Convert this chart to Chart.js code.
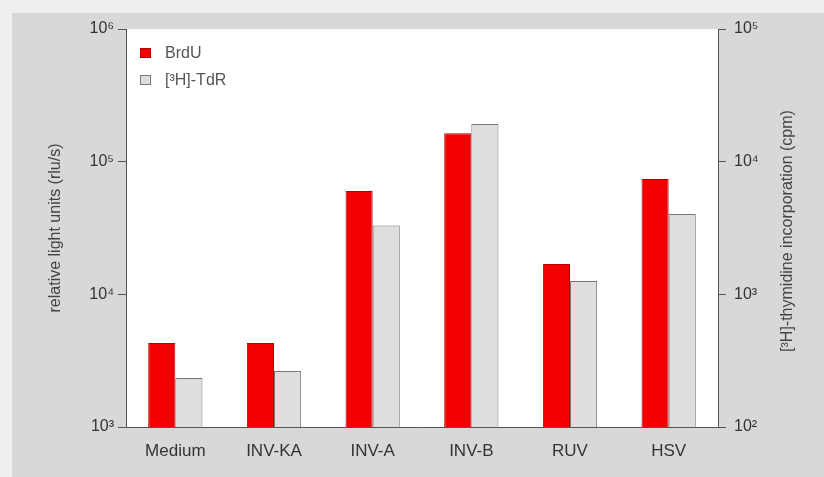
<!DOCTYPE html>
<html><head><meta charset="utf-8">
<script src="https://cdn.jsdelivr.net/npm/chart.js@4/dist/chart.umd.min.js"></script>
<style>html,body{margin:0;padding:0;background:#eeeeee;}#wrap{width:824px;height:477px;position:relative;}</style>
</head><body><div id="wrap"><canvas id="c" width="824" height="477"></canvas></div>
<script>
const categories = ['Medium', 'INV-KA', 'INV-A', 'INV-B', 'RUV', 'HSV'];
const brduValues = [4300, 4300, 60000, 164000, 16900, 74000];
const tdrValues = [234, 264, 3300, 19200, 1260, 4030];
const seriesLabels = ['BrdU', '[³H]-TdR'];
const leftTickValues = [1000, 10000, 100000, 1000000];
const leftTickLabels = ['10³', '10⁴', '10⁵', '10⁶'];
const rightTickValues = [100, 1000, 10000, 100000];
const rightTickLabels = ['10²', '10³', '10⁴', '10⁵'];
const leftTitle = 'relative light units (rlu/s)';
const rightTitle = '[³H]-thymidine incorporation (cpm)';

const FONT = '"Liberation Sans", Arial, sans-serif';

const bgPlugin = {
  id: 'bg',
  beforeDraw(chart) {
    const ctx = chart.ctx, a = chart.chartArea;
    ctx.save();
    ctx.fillStyle = '#efefef';
    ctx.fillRect(0, 0, chart.width, chart.height);
    ctx.fillStyle = '#d8d8d8';
    ctx.fillRect(12, 13, chart.width - 12, chart.height - 13);
    ctx.fillStyle = '#ffffff';
    ctx.fillRect(a.left, a.top, a.right - a.left, a.bottom - a.top);
    ctx.restore();
  },
  afterDraw(chart) {
    const ctx = chart.ctx, a = chart.chartArea;
    ctx.save();
    // legend
    const ds = chart.data.datasets;
    ctx.font = '16px ' + FONT;
    ctx.textBaseline = 'middle';
    ctx.textAlign = 'left';
    ds.forEach((d, i) => {
      const y = 53 + i * 27;
      ctx.fillStyle = d.backgroundColor;
      ctx.fillRect(140, y - 5, 11, 10);
      ctx.strokeStyle = d.borderColor;
      ctx.lineWidth = 1;
      ctx.strokeRect(140.5, y - 4.5, 10, 9);
      ctx.fillStyle = '#555555';
      ctx.fillText(d.label, 165, y + 1);
    });
    // axis titles
    const cy = (a.top + a.bottom) / 2;
    ctx.fillStyle = '#444444';
    ctx.textAlign = 'center';
    ctx.font = '16px ' + FONT;
    ctx.translate(56, cy);
    ctx.rotate(-Math.PI / 2);
    ctx.fillText(leftTitle, 0, 0);
    ctx.rotate(Math.PI / 2);
    ctx.translate(-56, -cy);
    ctx.translate(788, cy + 3);
    ctx.rotate(-Math.PI / 2);
    ctx.fillText(rightTitle, 0, 0);
    ctx.restore();
  }
};

new Chart(document.getElementById('c'), {
  type: 'bar',
  data: {
    labels: categories,
    datasets: [
      { label: seriesLabels[0], data: brduValues, yAxisID: 'y',
        backgroundColor: '#f20000', borderColor: '#b80000', borderWidth: 1 },
      { label: seriesLabels[1], data: tdrValues, yAxisID: 'y1',
        backgroundColor: '#dedede', borderColor: '#777777', borderWidth: 1 }
    ]
  },
  options: {
    responsive: false,
    animation: false,
    layout: { padding: { top: 29, left: 0, right: 0, bottom: 0 } },
    datasets: { bar: { categoryPercentage: 0.55, barPercentage: 1.0 } },
    plugins: { legend: { display: false }, tooltip: { enabled: false } },
    scales: {
      x: {
        grid: { display: false, drawTicks: false },
        border: { color: '#555555', width: 1 },
        ticks: { color: '#333333', font: { family: FONT, size: 17 }, padding: 14 },
        afterFit(s) { s.height = 50; }
      },
      y: {
        type: 'logarithmic', position: 'left', min: 1000, max: 1000000,
        grid: { drawOnChartArea: false, tickLength: 8, color: '#555555' },
        border: { color: '#555555', width: 1 },
        afterBuildTicks(s) { s.ticks = leftTickValues.map(v => ({ value: v })); },
        ticks: { color: '#333333', font: { family: FONT, size: 16 }, padding: 4,
          callback(v) { const i = leftTickValues.indexOf(v); return i >= 0 ? leftTickLabels[i] : ''; } },
        afterFit(s) { s.width = 126; }
      },
      y1: {
        type: 'logarithmic', position: 'right', min: 100, max: 100000,
        grid: { drawOnChartArea: false, tickLength: 8, color: '#555555' },
        border: { color: '#555555', width: 1 },
        afterBuildTicks(s) { s.ticks = rightTickValues.map(v => ({ value: v })); },
        ticks: { color: '#333333', font: { family: FONT, size: 16 }, padding: 8,
          callback(v) { const i = rightTickValues.indexOf(v); return i >= 0 ? rightTickLabels[i] : ''; } },
        afterFit(s) { s.width = 106; }
      }
    }
  },
  plugins: [bgPlugin]
});
</script></body></html>
